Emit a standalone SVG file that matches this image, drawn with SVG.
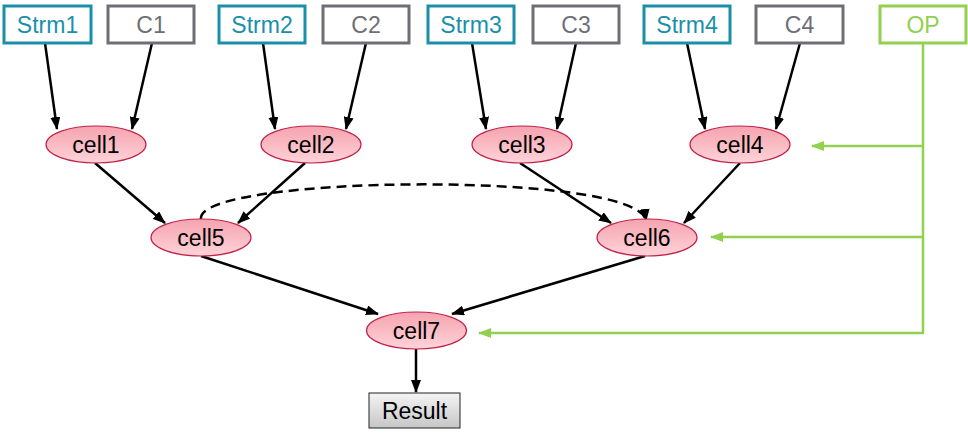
<svg xmlns="http://www.w3.org/2000/svg" width="968" height="446" viewBox="0 0 968 446">
<style>
.box{fill:#fff;stroke-width:3}
.strm{stroke:#1A8FA8}
.c{stroke:#6E6F76}
.op{stroke:#92D050}
.t{font-family:"Liberation Sans",Arial,sans-serif;font-size:23px;text-anchor:middle}
.ts{fill:#1A8FA8}
.tc{fill:#6E6F76}
.to{fill:#92D050}
.tk{fill:#000}
.cell{fill:url(#pink);stroke:#C0234A;stroke-width:1.2}
.edge{fill:none;stroke:#000;stroke-width:2.5;marker-end:url(#ah)}
.dash{fill:none;stroke:#000;stroke-width:2.5;stroke-dasharray:10 6;marker-end:url(#ah)}
.g{fill:none;stroke:#92D050;stroke-width:2.5}
.ga{fill:none;stroke:#92D050;stroke-width:2.5;marker-end:url(#gh)}
</style>
<defs>
<linearGradient id="pink" x1="0" y1="0" x2="0" y2="1">
<stop offset="0" stop-color="#F5A3AF"/>
<stop offset="1" stop-color="#FFD3D9"/>
</linearGradient>
<linearGradient id="gray" x1="0" y1="0" x2="0" y2="1">
<stop offset="0" stop-color="#F4F4F4"/>
<stop offset="1" stop-color="#C6C6C6"/>
</linearGradient>
<marker id="ah" markerUnits="userSpaceOnUse" markerWidth="13" markerHeight="10" refX="12" refY="5" orient="auto">
<path d="M0,0 L13,5 L0,10 Z" fill="#000"/>
</marker>
<marker id="gh" markerUnits="userSpaceOnUse" markerWidth="13" markerHeight="10" refX="12" refY="5" orient="auto">
<path d="M0,0 L13,5 L0,10 Z" fill="#92D050"/>
</marker>
</defs>

<g id="connectors">
<line class="edge" x1="45" y1="43" x2="57" y2="129"/>
<line class="edge" x1="152" y1="43" x2="132" y2="129"/>
<line class="edge" x1="263" y1="43" x2="275" y2="129"/>
<line class="edge" x1="366" y1="43" x2="346" y2="129"/>
<line class="edge" x1="472" y1="43" x2="486" y2="129"/>
<line class="edge" x1="576" y1="43" x2="557" y2="129"/>
<line class="edge" x1="687" y1="43" x2="705" y2="129"/>
<line class="edge" x1="800" y1="43" x2="776" y2="129"/>
<line class="edge" x1="95" y1="163" x2="165" y2="223"/>
<line class="edge" x1="305" y1="163" x2="238" y2="223"/>
<line class="edge" x1="520" y1="163" x2="611" y2="223"/>
<line class="edge" x1="740" y1="163" x2="684" y2="223"/>
<path class="dash" d="M201,219 C195,175 640,170 646,221"/>
<line class="edge" x1="201" y1="256" x2="378" y2="314"/>
<line class="edge" x1="645" y1="256" x2="452" y2="314"/>
<line class="edge" x1="416" y1="349" x2="416" y2="392"/>
<polyline class="g" points="923,43 923,333"/>
<line class="ga" x1="923" y1="146" x2="812" y2="146"/>
<line class="ga" x1="923" y1="237" x2="711" y2="237"/>
<line class="ga" x1="924" y1="333" x2="479" y2="333"/>
</g>

<g id="Strm1"><rect class="box strm" x="4" y="6" width="87" height="37"/><text class="t ts" x="47.5" y="32.5">Strm1</text></g>
<g id="C1"><rect class="box c" x="108" y="6" width="86" height="37"/><text class="t tc" x="151" y="32.5">C1</text></g>
<g id="Strm2"><rect class="box strm" x="219" y="6" width="86" height="37"/><text class="t ts" x="262" y="32.5">Strm2</text></g>
<g id="C2"><rect class="box c" x="323" y="6" width="86" height="37"/><text class="t tc" x="366" y="32.5">C2</text></g>
<g id="Strm3"><rect class="box strm" x="428" y="6" width="86" height="37"/><text class="t ts" x="471" y="32.5">Strm3</text></g>
<g id="C3"><rect class="box c" x="533" y="6" width="86" height="37"/><text class="t tc" x="576" y="32.5">C3</text></g>
<g id="Strm4"><rect class="box strm" x="644" y="6" width="86" height="37"/><text class="t ts" x="687" y="32.5">Strm4</text></g>
<g id="C4"><rect class="box c" x="756" y="6" width="87" height="37"/><text class="t tc" x="799.5" y="32.5">C4</text></g>
<g id="OP"><rect class="box op" x="880" y="6" width="86" height="37"/><text class="t to" x="923" y="32.5">OP</text></g>

<g id="cell1"><ellipse class="cell" cx="96" cy="144.5" rx="50" ry="18.5"/><text class="t tk" x="96" y="152.5">cell1</text></g>
<g id="cell2"><ellipse class="cell" cx="311" cy="144.5" rx="50" ry="18.5"/><text class="t tk" x="311" y="152.5">cell2</text></g>
<g id="cell3"><ellipse class="cell" cx="522" cy="144.5" rx="50" ry="18.5"/><text class="t tk" x="522" y="152.5">cell3</text></g>
<g id="cell4"><ellipse class="cell" cx="740" cy="144.5" rx="50" ry="18.5"/><text class="t tk" x="740" y="152.5">cell4</text></g>
<g id="cell5"><ellipse class="cell" cx="201" cy="237.5" rx="50" ry="18.5"/><text class="t tk" x="201" y="245.5">cell5</text></g>
<g id="cell6"><ellipse class="cell" cx="647" cy="237.5" rx="50" ry="18.5"/><text class="t tk" x="647" y="245.5">cell6</text></g>
<g id="cell7"><ellipse class="cell" cx="416.5" cy="330.5" rx="50" ry="18.5"/><text class="t tk" x="416.5" y="338.5">cell7</text></g>
<g id="Result"><rect x="369" y="393" width="91" height="35" fill="url(#gray)" stroke="#222" stroke-width="1"/><text class="t tk" x="414.5" y="418.5">Result</text></g>
</svg>
